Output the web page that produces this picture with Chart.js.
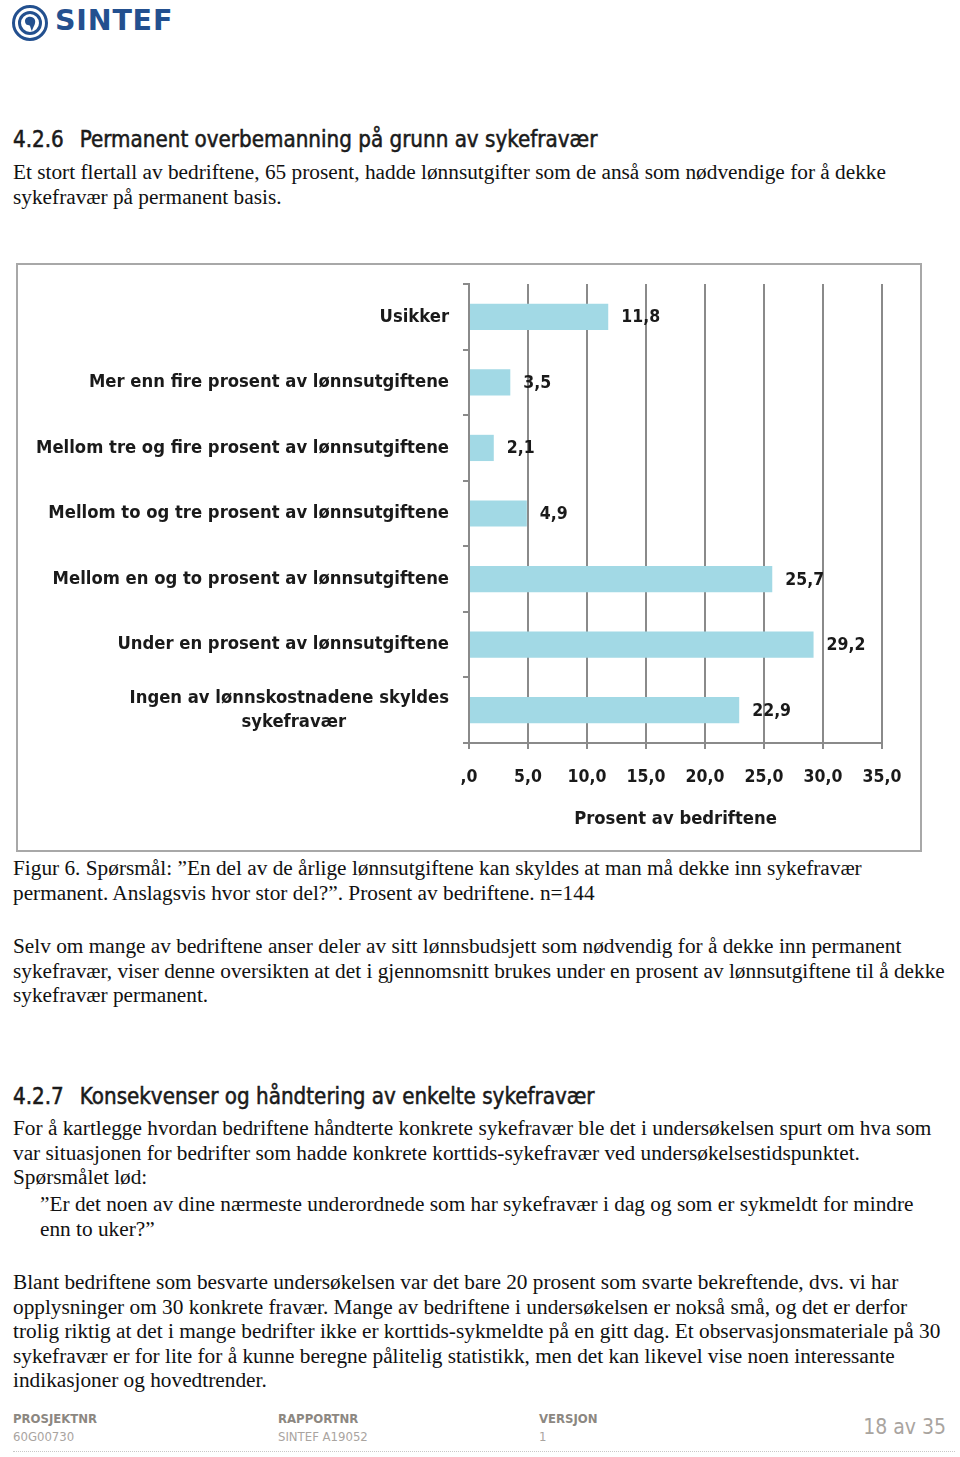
<!DOCTYPE html>
<html>
<head>
<meta charset="utf-8">
<script src="https://cdn.jsdelivr.net/npm/chart.js@4.4.1/dist/chart.umd.min.js"></script>
<style>
  body { margin: 0; width: 960px; height: 1457px; background: #fff; position: relative; overflow: hidden; }
  .t { position: absolute; left: 13px; font-family: "Liberation Serif", "Times New Roman", serif; font-size: 21.3px; line-height: 24.6px; color: #111; white-space: nowrap; }
  .h { position: absolute; left: 13px; font-family: "DejaVu Sans Condensed", sans-serif; font-size: 22.2px; -webkit-text-stroke: 0.5px #1a1a1a; color: #1a1a1a; white-space: nowrap; }
  .h span { margin-right: 16px; }
  #frame { position: absolute; left: 16px; top: 263px; width: 902px; height: 585px; border: 2px solid #a8a8a8; }
  #frame canvas { position: absolute; left: 0; top: 0; }
  .fl { position: absolute; font-family: "DejaVu Sans Condensed", sans-serif; font-size: 13px; color: #8c8781; font-weight: bold; }
  .fv { position: absolute; font-family: "DejaVu Sans Condensed", sans-serif; font-size: 13px; color: #a9a49f; }
</style>
</head>
<body>

<svg style="position:absolute;left:11px;top:4px" width="38" height="38" viewBox="0 0 38 38">
  <circle cx="19" cy="19" r="16.5" fill="none" stroke="#23508f" stroke-width="3"/>
  <circle cx="19" cy="19" r="10.5" fill="none" stroke="#23508f" stroke-width="3"/>
  <path d="M14 17 C14 12 22 11 24 16 C25 20 22 23 21 27 C19 24 20 21 17 21 C15 21 14 19 14 17 Z" fill="#23508f"/>
</svg>
<div style="position:absolute;left:55px;top:4px;font-family:'DejaVu Sans',sans-serif;font-weight:bold;font-size:28.5px;color:#23508f;letter-spacing:0.8px">SINTEF</div>

<div class="h" style="top:126px"><span>4.2.6</span>Permanent overbemanning på grunn av sykefravær</div>
<div class="t" style="top:160px">Et stort flertall av bedriftene, 65 prosent, hadde lønnsutgifter som de anså som nødvendige for å dekke<br>sykefravær på permanent basis.</div>

<div id="frame"><canvas id="chart" width="902" height="585"></canvas></div>

<div class="t" style="top:856px">Figur 6. Spørsmål: ”En del av de årlige lønnsutgiftene kan skyldes at man må dekke inn sykefravær<br>permanent. Anslagsvis hvor stor del?”. Prosent av bedriftene. n=144</div>
<div class="t" style="top:934px">Selv om mange av bedriftene anser deler av sitt lønnsbudsjett som nødvendig for å dekke inn permanent<br>sykefravær, viser denne oversikten at det i gjennomsnitt brukes under en prosent av lønnsutgiftene til å dekke<br>sykefravær permanent.</div>

<div class="h" style="top:1083px"><span>4.2.7</span>Konsekvenser og håndtering av enkelte sykefravær</div>
<div class="t" style="top:1116px">For å kartlegge hvordan bedriftene håndterte konkrete sykefravær ble det i undersøkelsen spurt om hva som<br>var situasjonen for bedrifter som hadde konkrete korttids-sykefravær ved undersøkelsestidspunktet.<br>Spørsmålet lød:</div>
<div class="t" style="top:1192px;left:40px">”Er det noen av dine nærmeste underordnede som har sykefravær i dag og som er sykmeldt for mindre<br>enn to uker?”</div>
<div class="t" style="top:1270px">Blant bedriftene som besvarte undersøkelsen var det bare 20 prosent som svarte bekreftende, dvs. vi har<br>opplysninger om 30 konkrete fravær. Mange av bedriftene i undersøkelsen er nokså små, og det er derfor<br>trolig riktig at det i mange bedrifter ikke er korttids-sykmeldte på en gitt dag. Et observasjonsmateriale på 30<br>sykefravær er for lite for å kunne beregne pålitelig statistikk, men det kan likevel vise noen interessante<br>indikasjoner og hovedtrender.</div>

<div class="fl" style="left:13px;top:1411px">PROSJEKTNR</div>
<div class="fv" style="left:13px;top:1429px">60G00730</div>
<div class="fl" style="left:278px;top:1411px">RAPPORTNR</div>
<div class="fv" style="left:278px;top:1429px">SINTEF A19052</div>
<div class="fl" style="left:539px;top:1411px">VERSJON</div>
<div class="fv" style="left:539px;top:1429px">1</div>
<div style="position:absolute;right:14px;top:1415px;font-family:'DejaVu Sans Condensed',sans-serif;font-size:21px;color:#a9a49f">18 av 35</div>
<div style="position:absolute;left:13px;top:1451px;width:942px;border-top:1px dotted #c8c8c8"></div>

<script>
// Figur 6 - andel av bedriftene
const categories = [
    "Usikker",
    "Mer enn fire prosent av lønnsutgiftene",
    "Mellom tre og fire prosent av lønnsutgiftene",
    "Mellom to og tre prosent av lønnsutgiftene",
    "Mellom en og to prosent av lønnsutgiftene",
    "Under en prosent av lønnsutgiftene",
    ["Ingen av lønnskostnadene skyldes", "sykefravær"]
];
const values = [11.8, 3.5, 2.1, 4.9, 25.7, 29.2, 22.9];
const xTicks = [0, 5, 10, 15, 20, 25, 30, 35];
const xTitle = "Prosent av bedriftene";

const labelFont = { family: "DejaVu Sans Condensed", size: 18.3, weight: "bold", lineHeight: 1.3 };
const numFont = { family: "DejaVu Sans Condensed", size: 17.5, weight: "bold" };
const fontStr = "bold 18.3px 'DejaVu Sans Condensed'";
const numStr = "bold 17.5px 'DejaVu Sans Condensed'";

function fmt(v) {
    // norsk desimal, 0 vises som ",0"
    let s = v.toFixed(1).replace(".", ",");
    if (s.startsWith("0,")) s = s.substring(1);
    return s;
}

// pad second line of multi-line labels so lines look centred on each other
const mctx = document.createElement("canvas").getContext("2d");
mctx.font = fontStr;
const yLabels = categories.map(c => {
    if (!Array.isArray(c)) return c;
    const w0 = mctx.measureText(c[0]).width;
    return c.map(line => {
        let s = line;
        while (mctx.measureText(s + " ").width <= w0 - (w0 - mctx.measureText(line).width) / 2) s += " ";
        return s;
    });
});

const valueLabels = {
    id: "valueLabels",
    afterDatasetsDraw(chart) {
        const ctx = chart.ctx;
        const meta = chart.getDatasetMeta(0);
        ctx.save();
        ctx.font = numStr;
        ctx.fillStyle = "#1a1a1a";
        ctx.textAlign = "left";
        ctx.textBaseline = "middle";
        meta.data.forEach((bar, i) => {
            ctx.fillText(fmt(values[i]), bar.x + 13, bar.y + 1);
        });
        ctx.restore();
    }
};

let ctx = document.getElementById("chart").getContext("2d");
window.myBar = new Chart(ctx, {
    type: "bar",
    data: {
        labels: yLabels,
        datasets: [{
            data: values,
            backgroundColor: "#a2d9e5",
            borderWidth: 0,
            barPercentage: 0.4,
            categoryPercentage: 1
        }]
    },
    options: {
        indexAxis: "y",
        responsive: false,
        animation: false,
        layout: { padding: { top: 19, left: 0, right: 38, bottom: 0 } },
        plugins: { legend: { display: false }, tooltip: { enabled: false } },
        scales: {
            x: {
                min: 0,
                max: 35,
                afterBuildTicks(scale) { scale.ticks = xTicks.map(v => ({ value: v })); },
                afterFit(scale) { scale.height = 107; scale.paddingLeft = 0; scale.paddingRight = 0; },
                ticks: { font: numFont, color: "#1a1a1a", padding: 18, maxRotation: 0, callback: v => fmt(v) },
                grid: { color: "#8a8a8a", lineWidth: 2, tickLength: 6 },
                border: { color: "#8a8a8a", width: 2 },
                title: { display: true, text: xTitle, font: labelFont, color: "#1a1a1a", padding: { top: 10, bottom: 19 } }
            },
            y: {
                afterFit(scale) { scale.width = 451; scale.paddingTop = 0; scale.paddingBottom = 0; },
                ticks: { font: labelFont, color: "#1a1a1a", padding: 14 },
                grid: { drawOnChartArea: false, color: "#8a8a8a", lineWidth: 2, tickLength: 6 },
                border: { color: "#8a8a8a", width: 2 }
            }
        }
    },
    plugins: [valueLabels]
});
</script>
</body>
</html>
